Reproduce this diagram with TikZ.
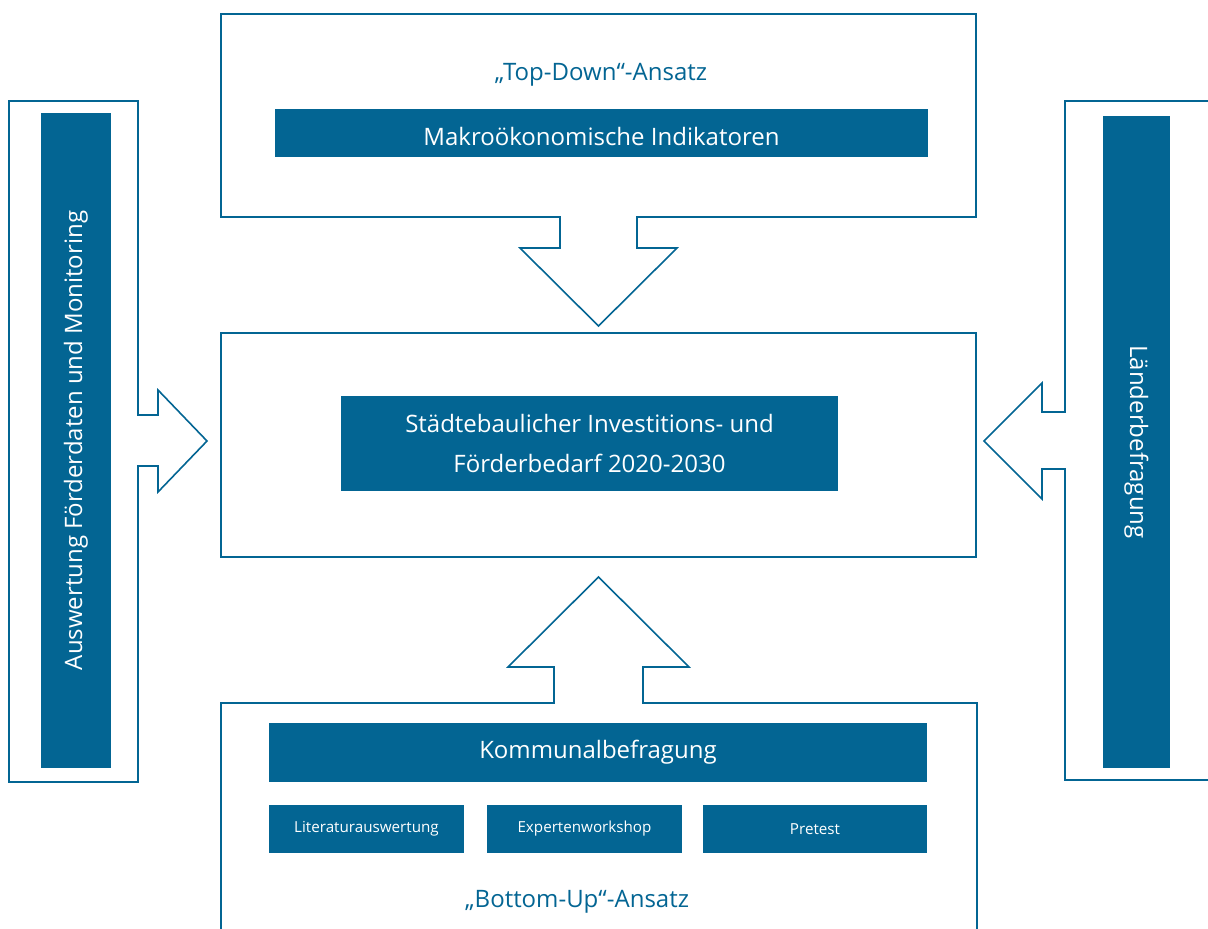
\documentclass[tikz,border=0pt]{standalone}
\usepackage{fontspec}
\setmainfont{Open Sans}
\definecolor{blau}{RGB}{3,101,147}
\begin{document}
\begin{tikzpicture}[x=0.75pt,y=-0.75pt,
  outl/.style={draw=blau,line width=1.2pt,line join=miter},
  bar/.style={fill=blau,text=white,inner sep=0pt,align=center},
  big/.style={font=\fontsize{18}{30}\selectfont},
  small/.style={font=\fontsize{11.4}{13}\selectfont},
  lbl/.style={text=blau,font=\fontsize{18}{20}\selectfont,inner sep=0pt}]
\useasboundingbox (0,0) rectangle (1208,929);
\clip (0,0) rectangle (1208,929);
% outlines
\draw[outl] (221,14) -- (976,14) -- (976,217) -- (637,217) -- (637,248) -- (677,248) -- (598.5,326) -- (520,248) -- (560,248) -- (560,217) -- (221,217) -- cycle;
\draw[outl] (221,333) rectangle (976,557);
\draw[outl] (9,101) -- (138,101) -- (138,415) -- (158,415) -- (158,390) -- (207,441) -- (158,492) -- (158,466) -- (138,466) -- (138,782) -- (9,782) -- cycle;
\draw[outl] (1230,101) -- (1065,101) -- (1065,412) -- (1042,412) -- (1042,383) -- (984,441) -- (1042,499) -- (1042,469) -- (1065,469) -- (1065,780) -- (1230,780);
\draw[outl] (221,950) -- (221,703) -- (554,703) -- (554,667) -- (508,667) -- (598.5,577) -- (689,667) -- (643,667) -- (643,703) -- (977,703) -- (977,950);
% labels
\node[lbl] (topdown) at (601,75) {„Top-Down“-Ansatz};
\node[lbl] (bottomup) at (577,902) {„Bottom-Up“-Ansatz};
% bars
\node[bar,big,minimum width=0.75pt*653,minimum height=0.75pt*48] (makro) at (601.5,133) {\raisebox{-9.5pt}[0pt][0pt]{Makroökonomische Indikatoren}};
\node[bar,big,minimum width=0.75pt*497,minimum height=0.75pt*95] (center) at (589.5,443.5) {Städtebaulicher Investitions- und\\Förderbedarf 2020-2030};
\node[bar,big,minimum width=0.75pt*658,minimum height=0.75pt*59] (kommunal) at (598,752.5) {Kommunalbefragung};
\node[bar,small,minimum width=0.75pt*195,minimum height=0.75pt*48] (literatur) at (366.5,829) {Literaturauswertung};
\node[bar,small,minimum width=0.75pt*195,minimum height=0.75pt*48] (experten) at (584.5,829) {Expertenworkshop};
\node[bar,small,minimum width=0.75pt*224,minimum height=0.75pt*48] (pretest) at (815,829) {Pretest};
\node[bar,big,rotate=90,minimum width=0.75pt*655,minimum height=0.75pt*70] (auswertung) at (76,440.5) {Auswertung Förderdaten und Monitoring};
\node[bar,big,rotate=-90,minimum width=0.75pt*652,minimum height=0.75pt*67] (laender) at (1136.5,442) {Länderbefragung};
\end{tikzpicture}
\end{document}
